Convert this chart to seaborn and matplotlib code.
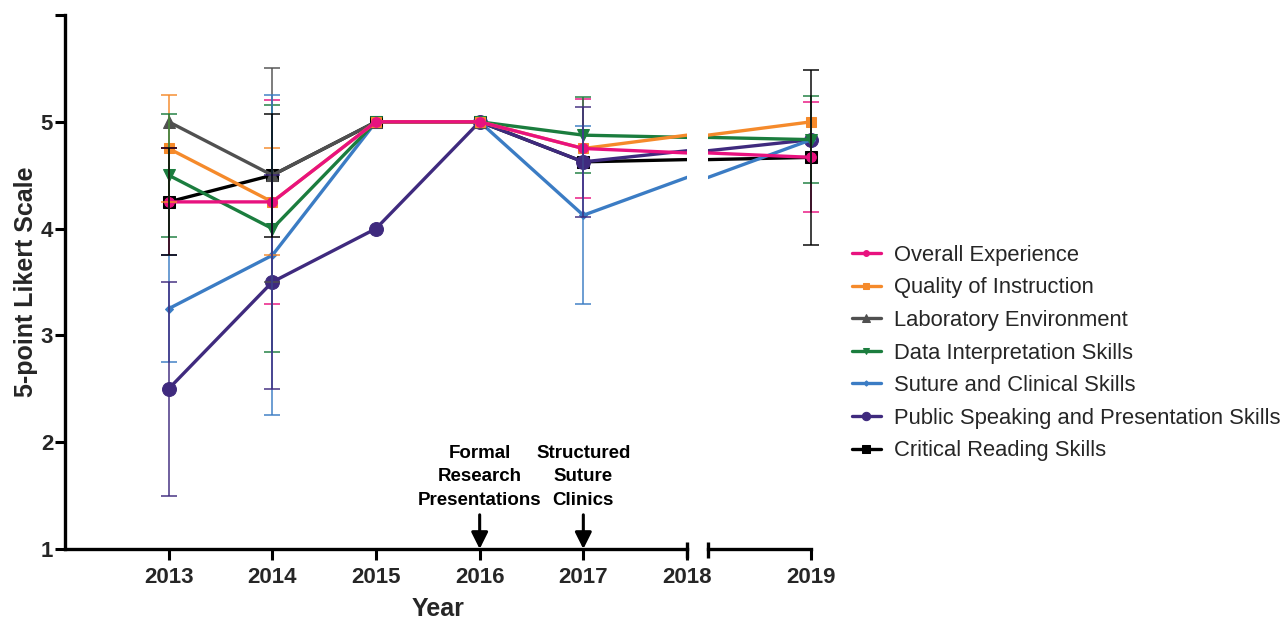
import numpy as np
import pandas as pd
import matplotlib
matplotlib.use("Agg")
import matplotlib.pyplot as plt
import matplotlib.transforms as mtransforms
import seaborn as sns

# Survey years (no survey in 2018)
years = [2013, 2014, 2015, 2016, 2017, 2019]

series_names = [
    "Overall Experience",
    "Quality of Instruction",
    "Laboratory Environment",
    "Data Interpretation Skills",
    "Suture and Clinical Skills",
    "Public Speaking and Presentation Skills",
    "Critical Reading Skills",
]

# Mean ratings per year
overall_mean = [4.25, 4.25, 5.0, 5.0, 4.75, 4.667]
quality_mean = [4.75, 4.25, 5.0, 5.0, 4.75, 5.0]
lab_mean = [5.0, 4.5, 5.0, 5.0, np.nan, np.nan]
data_mean = [4.5, 4.0, 5.0, 5.0, 4.875, 4.833]
suture_mean = [3.25, 3.75, 5.0, 5.0, 4.125, 4.833]
speaking_mean = [2.5, 3.5, 4.0, 5.0, 4.625, 4.833]
reading_mean = [4.25, 4.5, 5.0, 5.0, 4.625, 4.667]

# Standard deviations per year
overall_sd = [0.5, 0.957, 0.0, 0.0, 0.465, 0.516]
quality_sd = [0.5, 0.5, 0.0, 0.0, 0.0, 0.0]
lab_sd = [0.0, 1.0, 0.0, 0.0, np.nan, np.nan]
data_sd = [0.577, 1.155, 0.0, 0.0, 0.354, 0.408]
suture_sd = [0.5, 1.5, 0.0, 0.0, 0.835, 0.0]
speaking_sd = [1.0, 1.0, 0.0, 0.0, 0.518, 0.0]
reading_sd = [0.5, 0.577, 0.0, 0.0, 0.0, 0.816]

means = [overall_mean, quality_mean, lab_mean, data_mean,
         suture_mean, speaking_mean, reading_mean]
sds = [overall_sd, quality_sd, lab_sd, data_sd,
       suture_sd, speaking_sd, reading_sd]

colors = ["#E8127F", "#F58A2B", "#505050", "#1B7D3E",
          "#3B7CC4", "#3F2A7E", "#000000"]
markers = ["o", "s", "^", "v", "D", "o", "s"]
msizes = [7, 7, 8.5, 8, 4.5, 10, 9]

rows = []
for name, m, s in zip(series_names, means, sds):
    for yr, mv, sv in zip(years, m, s):
        if not np.isnan(mv):
            rows.append({"series": name, "year": yr, "mean": mv, "sd": sv})
df = pd.DataFrame(rows)

sns.set_theme(style="white")
plt.rcParams["font.family"] = ["Liberation Sans", "DejaVu Sans"]

W, H = 1283, 624
fig = plt.figure(figsize=(W / 100, H / 100), dpi=100)
axL = fig.add_axes([65 / W, 1 - 549 / H, (687 - 65) / W, (549 - 15) / H])
axR = fig.add_axes([708 / W, 1 - 549 / H, 119 / W, (549 - 15) / H], sharey=axL)

for ax in (axL, axR):
    # draw in reverse so the first series ends up on top
    for i in reversed(range(len(series_names))):
        name = series_names[i]
        sub = df[df["series"] == name]
        eb = sub[sub["sd"] > 0]
        ax.errorbar(eb["year"], eb["mean"], yerr=eb["sd"], fmt="none",
                    ecolor=colors[i], elinewidth=1.4, capsize=6,
                    capthick=1.4, alpha=0.75, zorder=2 + i * 0.01)
        sns.lineplot(data=sub, x="year", y="mean", ax=ax, color=colors[i],
                     marker=markers[i], markersize=msizes[i],
                     markeredgecolor=colors[i], linewidth=2.4,
                     errorbar=None, label=name, legend=False)

axL.set_xlim(2012, 2018)
axR.set_xlim(2018, 2019.15)
axL.set_ylim(1, 6)

for ax in (axL, axR):
    ax.spines["top"].set_visible(False)
    ax.spines["right"].set_visible(False)
    ax.spines["bottom"].set_linewidth(2.4)
    ax.spines["bottom"].set_color("black")
    ax.set_xlabel("")
    ax.set_ylabel("")
    ax.tick_params(axis="x", direction="out", length=8, width=2.2,
                   color="black", labelsize=16, pad=5, bottom=True)

axL.spines["left"].set_linewidth(2.4)
axL.spines["left"].set_color("black")
axL.spines["bottom"].set_bounds(2012, 2018)
axR.spines["left"].set_visible(False)
axR.spines["bottom"].set_bounds(2018, 2019)

axL.set_xticks([2013, 2014, 2015, 2016, 2017, 2018])
axL.set_xticklabels(["2013", "2014", "2015", "2016", "2017", "2018"],
                    fontweight="bold", fontsize=16)
axR.set_xticks([2019])
axR.set_xticklabels(["2019"], fontweight="bold", fontsize=16)

axL.set_yticks([1, 2, 3, 4, 5, 6])
axL.set_yticklabels(["1", "2", "3", "4", "5", ""], fontweight="bold", fontsize=16)
axL.tick_params(axis="y", direction="out", length=7, width=2.2,
                color="black", pad=1.5, left=True)
axR.tick_params(axis="y", left=False, labelleft=False)

# broken-axis end marks
for ax in (axL, axR):
    tr = mtransforms.blended_transform_factory(ax.transData, ax.transAxes)
    ax.plot([2018, 2018], [-0.016, 0.014], transform=tr, color="black",
            lw=2.4, clip_on=False, solid_capstyle="butt")

axL.set_ylabel("5-point Likert Scale", fontsize=18, fontweight="bold")
axL.yaxis.set_label_coords(-0.044, 0.5)
axL.set_xlabel("Year", fontsize=18, fontweight="bold")
axL.xaxis.set_label_coords((438 - 65) / 622, -0.09)

# program milestones
for yr, txt in [(2016, "Formal\nResearch\nPresentations"),
                (2017, "Structured\nSuture\nClinics")]:
    axL.text(yr, 1.375, txt, ha="center", va="bottom", fontsize=13.5,
             fontweight="bold", linespacing=1.5, color="black")
    axL.annotate("", xy=(yr, 1.0), xytext=(yr, 1.32),
                 arrowprops=dict(arrowstyle="-|>", color="black", lw=2.2,
                                 mutation_scale=25, shrinkA=0, shrinkB=0))

handles, labels = axL.get_legend_handles_labels()
order = [labels.index(n) for n in series_names]
fig.legend([handles[k] for k in order], [labels[k] for k in order],
           loc="center left", bbox_to_anchor=(852 / W, 1 - 353 / H),
           frameon=False, fontsize=15.8, handlelength=1.3,
           handletextpad=0.6, labelspacing=0.53, borderpad=0,
           borderaxespad=0, markerscale=0.6)

fig.savefig("out.png", dpi=100)
